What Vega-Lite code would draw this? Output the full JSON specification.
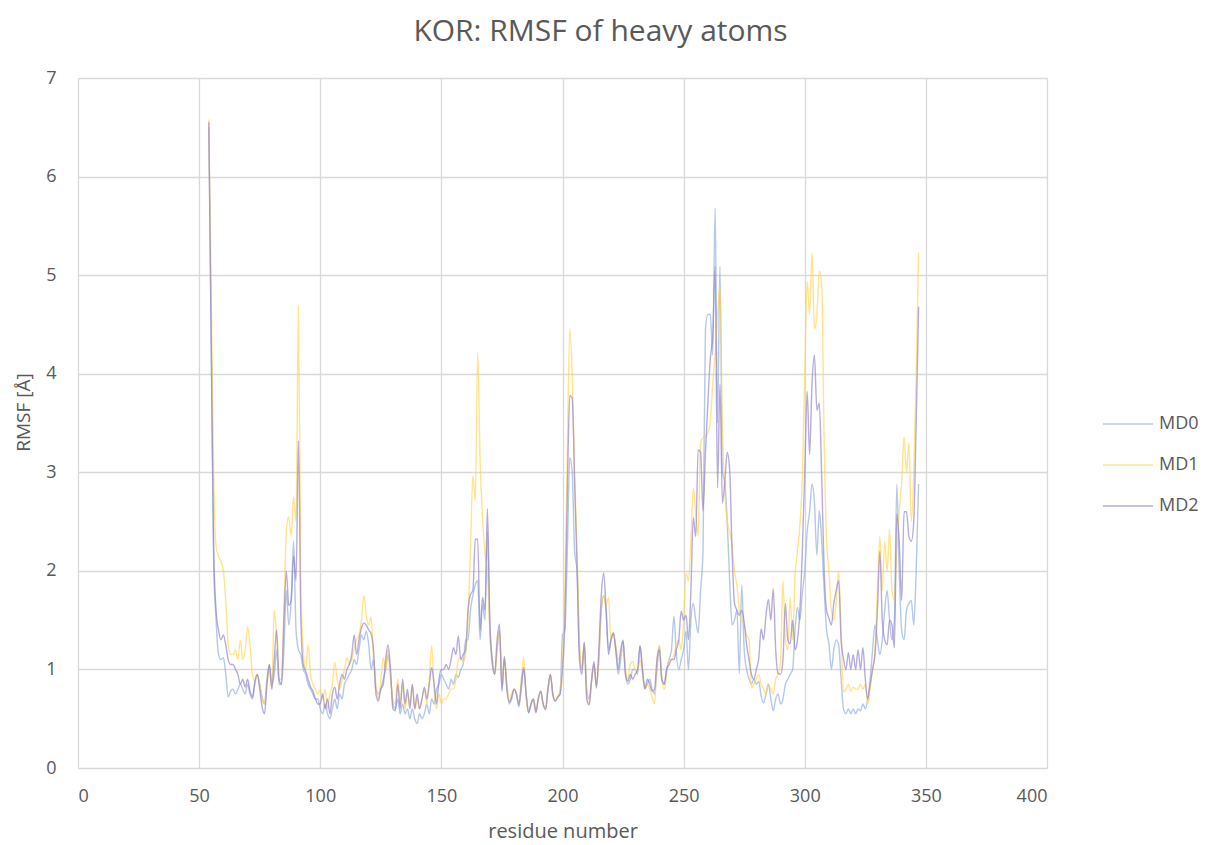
{
  "$schema": "https://vega.github.io/schema/vega-lite/v6.json",
  "width": 969,
  "height": 690,
  "autosize": {"type": "none"},
  "padding": {"left": 78, "top": 78, "right": 159, "bottom": 77},
  "background": "white",
  "title": {"text": "KOR: RMSF of heavy atoms", "fontSize": 30, "font": "Open Sans", "fontWeight": "normal", "color": "#595959", "anchor": "middle", "dx": 38, "offset": 22},
  "data": {"values": [
    {"r":54,"MD0":6.5,"MD1":6.58,"MD2":6.55},
    {"r":55,"MD0":4.3,"MD1":4.8,"MD2":4.3},
    {"r":56,"MD0":2.1,"MD1":3.0,"MD2":2.2},
    {"r":57,"MD0":1.5,"MD1":2.25,"MD2":1.6},
    {"r":58,"MD0":1.15,"MD1":2.15,"MD2":1.4},
    {"r":59,"MD0":1.1,"MD1":2.1,"MD2":1.3},
    {"r":60,"MD0":1.12,"MD1":2.0,"MD2":1.35},
    {"r":61,"MD0":0.95,"MD1":1.7,"MD2":1.25},
    {"r":62,"MD0":0.72,"MD1":1.25,"MD2":1.1},
    {"r":63,"MD0":0.78,"MD1":1.15,"MD2":1.05},
    {"r":64,"MD0":0.8,"MD1":1.15,"MD2":1.05},
    {"r":65,"MD0":0.75,"MD1":1.2,"MD2":1.0},
    {"r":66,"MD0":0.8,"MD1":1.1,"MD2":0.95},
    {"r":67,"MD0":0.85,"MD1":1.3,"MD2":0.85},
    {"r":68,"MD0":0.8,"MD1":1.1,"MD2":0.9},
    {"r":69,"MD0":0.75,"MD1":1.2,"MD2":0.82},
    {"r":70,"MD0":0.85,"MD1":1.43,"MD2":0.9},
    {"r":71,"MD0":0.75,"MD1":1.25,"MD2":0.78},
    {"r":72,"MD0":0.7,"MD1":0.95,"MD2":0.72},
    {"r":73,"MD0":0.85,"MD1":0.88,"MD2":0.88},
    {"r":74,"MD0":0.95,"MD1":0.95,"MD2":0.95},
    {"r":75,"MD0":0.85,"MD1":0.85,"MD2":0.8},
    {"r":76,"MD0":0.72,"MD1":0.7,"MD2":0.62},
    {"r":77,"MD0":0.65,"MD1":0.65,"MD2":0.55},
    {"r":78,"MD0":0.9,"MD1":0.85,"MD2":0.85},
    {"r":79,"MD0":1.05,"MD1":1.0,"MD2":1.05},
    {"r":80,"MD0":0.85,"MD1":0.8,"MD2":0.8},
    {"r":81,"MD0":0.95,"MD1":1.6,"MD2":1.1},
    {"r":82,"MD0":1.2,"MD1":1.3,"MD2":1.4},
    {"r":83,"MD0":0.85,"MD1":0.9,"MD2":0.9},
    {"r":84,"MD0":0.85,"MD1":0.9,"MD2":0.85},
    {"r":85,"MD0":1.2,"MD1":1.6,"MD2":1.5},
    {"r":86,"MD0":1.8,"MD1":2.4,"MD2":2.0},
    {"r":87,"MD0":1.45,"MD1":2.55,"MD2":1.65},
    {"r":88,"MD0":1.7,"MD1":2.35,"MD2":1.7},
    {"r":89,"MD0":2.3,"MD1":2.75,"MD2":2.15},
    {"r":90,"MD0":1.4,"MD1":2.5,"MD2":1.9},
    {"r":91,"MD0":1.2,"MD1":4.68,"MD2":3.32},
    {"r":92,"MD0":1.15,"MD1":1.8,"MD2":1.5},
    {"r":93,"MD0":1.0,"MD1":1.2,"MD2":1.05},
    {"r":94,"MD0":0.95,"MD1":1.0,"MD2":0.98},
    {"r":95,"MD0":0.85,"MD1":1.25,"MD2":0.9},
    {"r":96,"MD0":0.8,"MD1":0.95,"MD2":0.82},
    {"r":97,"MD0":0.75,"MD1":0.85,"MD2":0.78},
    {"r":98,"MD0":0.7,"MD1":0.8,"MD2":0.7},
    {"r":99,"MD0":0.7,"MD1":0.75,"MD2":0.65},
    {"r":100,"MD0":0.6,"MD1":0.8,"MD2":0.65},
    {"r":101,"MD0":0.55,"MD1":0.7,"MD2":0.75},
    {"r":102,"MD0":0.65,"MD1":0.8,"MD2":0.6},
    {"r":103,"MD0":0.55,"MD1":0.6,"MD2":0.7},
    {"r":104,"MD0":0.5,"MD1":0.75,"MD2":0.55},
    {"r":105,"MD0":0.6,"MD1":0.85,"MD2":0.75},
    {"r":106,"MD0":0.7,"MD1":1.07,"MD2":0.82},
    {"r":107,"MD0":0.6,"MD1":0.9,"MD2":0.7},
    {"r":108,"MD0":0.75,"MD1":0.8,"MD2":0.85},
    {"r":109,"MD0":0.7,"MD1":0.9,"MD2":0.95},
    {"r":110,"MD0":0.85,"MD1":1.0,"MD2":0.9},
    {"r":111,"MD0":0.9,"MD1":1.12,"MD2":1.0},
    {"r":112,"MD0":0.95,"MD1":1.05,"MD2":1.05},
    {"r":113,"MD0":1.0,"MD1":1.1,"MD2":1.15},
    {"r":114,"MD0":1.1,"MD1":1.2,"MD2":1.35},
    {"r":115,"MD0":1.05,"MD1":1.3,"MD2":1.15},
    {"r":116,"MD0":1.2,"MD1":1.35,"MD2":1.3},
    {"r":117,"MD0":1.35,"MD1":1.5,"MD2":1.42},
    {"r":118,"MD0":1.3,"MD1":1.75,"MD2":1.47},
    {"r":119,"MD0":1.39,"MD1":1.55,"MD2":1.45},
    {"r":120,"MD0":1.25,"MD1":1.45,"MD2":1.4},
    {"r":121,"MD0":1.0,"MD1":1.53,"MD2":1.36},
    {"r":122,"MD0":1.1,"MD1":1.1,"MD2":1.2},
    {"r":123,"MD0":0.8,"MD1":0.85,"MD2":0.75},
    {"r":124,"MD0":0.75,"MD1":0.7,"MD2":0.68},
    {"r":125,"MD0":0.8,"MD1":0.9,"MD2":0.8},
    {"r":126,"MD0":0.9,"MD1":1.12,"MD2":0.85},
    {"r":127,"MD0":1.0,"MD1":1.0,"MD2":1.1},
    {"r":128,"MD0":1.15,"MD1":1.2,"MD2":1.25},
    {"r":129,"MD0":0.95,"MD1":0.9,"MD2":1.0},
    {"r":130,"MD0":0.65,"MD1":0.7,"MD2":0.6},
    {"r":131,"MD0":0.6,"MD1":0.65,"MD2":0.58},
    {"r":132,"MD0":0.7,"MD1":0.9,"MD2":0.85},
    {"r":133,"MD0":0.55,"MD1":0.65,"MD2":0.6},
    {"r":134,"MD0":0.65,"MD1":0.85,"MD2":0.9},
    {"r":135,"MD0":0.55,"MD1":0.6,"MD2":0.65},
    {"r":136,"MD0":0.6,"MD1":0.75,"MD2":0.8},
    {"r":137,"MD0":0.5,"MD1":0.65,"MD2":0.6},
    {"r":138,"MD0":0.6,"MD1":0.85,"MD2":0.85},
    {"r":139,"MD0":0.5,"MD1":0.6,"MD2":0.6},
    {"r":140,"MD0":0.45,"MD1":0.7,"MD2":0.75},
    {"r":141,"MD0":0.55,"MD1":0.6,"MD2":0.6},
    {"r":142,"MD0":0.5,"MD1":0.7,"MD2":0.7},
    {"r":143,"MD0":0.55,"MD1":0.8,"MD2":0.82},
    {"r":144,"MD0":0.65,"MD1":0.65,"MD2":0.7},
    {"r":145,"MD0":0.55,"MD1":0.9,"MD2":0.85},
    {"r":146,"MD0":0.7,"MD1":1.24,"MD2":1.02},
    {"r":147,"MD0":0.65,"MD1":0.8,"MD2":0.85},
    {"r":148,"MD0":0.8,"MD1":0.6,"MD2":0.65},
    {"r":149,"MD0":0.85,"MD1":0.75,"MD2":0.9},
    {"r":150,"MD0":0.95,"MD1":0.65,"MD2":1.0},
    {"r":151,"MD0":0.9,"MD1":0.7,"MD2":1.0},
    {"r":152,"MD0":0.85,"MD1":0.7,"MD2":1.05},
    {"r":153,"MD0":0.8,"MD1":0.75,"MD2":1.0},
    {"r":154,"MD0":0.9,"MD1":0.8,"MD2":1.1},
    {"r":155,"MD0":0.85,"MD1":0.8,"MD2":1.22},
    {"r":156,"MD0":0.95,"MD1":0.9,"MD2":1.15},
    {"r":157,"MD0":0.92,"MD1":1.1,"MD2":1.34},
    {"r":158,"MD0":1.0,"MD1":1.12,"MD2":1.1},
    {"r":159,"MD0":1.05,"MD1":1.08,"MD2":1.15},
    {"r":160,"MD0":1.3,"MD1":1.15,"MD2":1.2},
    {"r":161,"MD0":1.3,"MD1":1.5,"MD2":1.6},
    {"r":162,"MD0":1.6,"MD1":2.2,"MD2":1.76},
    {"r":163,"MD0":1.75,"MD1":2.97,"MD2":1.8},
    {"r":164,"MD0":1.86,"MD1":2.71,"MD2":2.32},
    {"r":165,"MD0":1.9,"MD1":4.22,"MD2":2.32},
    {"r":166,"MD0":1.3,"MD1":3.1,"MD2":1.4},
    {"r":167,"MD0":1.66,"MD1":2.54,"MD2":1.73},
    {"r":168,"MD0":1.5,"MD1":2.17,"MD2":1.6},
    {"r":169,"MD0":2.4,"MD1":2.0,"MD2":2.63},
    {"r":170,"MD0":1.4,"MD1":1.4,"MD2":1.5},
    {"r":171,"MD0":1.05,"MD1":1.1,"MD2":1.1},
    {"r":172,"MD0":0.95,"MD1":0.95,"MD2":0.95},
    {"r":173,"MD0":1.2,"MD1":1.2,"MD2":1.3},
    {"r":174,"MD0":1.4,"MD1":1.4,"MD2":1.46},
    {"r":175,"MD0":0.8,"MD1":0.85,"MD2":0.78},
    {"r":176,"MD0":1.1,"MD1":1.13,"MD2":1.13},
    {"r":177,"MD0":0.85,"MD1":0.85,"MD2":0.8},
    {"r":178,"MD0":0.65,"MD1":0.67,"MD2":0.67},
    {"r":179,"MD0":0.7,"MD1":0.75,"MD2":0.72},
    {"r":180,"MD0":0.8,"MD1":0.8,"MD2":0.8},
    {"r":181,"MD0":0.75,"MD1":0.75,"MD2":0.75},
    {"r":182,"MD0":0.62,"MD1":0.65,"MD2":0.64},
    {"r":183,"MD0":0.8,"MD1":0.9,"MD2":0.85},
    {"r":184,"MD0":1.0,"MD1":1.12,"MD2":1.02},
    {"r":185,"MD0":0.75,"MD1":0.7,"MD2":0.75},
    {"r":186,"MD0":0.56,"MD1":0.58,"MD2":0.56},
    {"r":187,"MD0":0.65,"MD1":0.65,"MD2":0.65},
    {"r":188,"MD0":0.7,"MD1":0.7,"MD2":0.7},
    {"r":189,"MD0":0.58,"MD1":0.57,"MD2":0.56},
    {"r":190,"MD0":0.7,"MD1":0.7,"MD2":0.7},
    {"r":191,"MD0":0.78,"MD1":0.78,"MD2":0.78},
    {"r":192,"MD0":0.65,"MD1":0.65,"MD2":0.65},
    {"r":193,"MD0":0.6,"MD1":0.6,"MD2":0.59},
    {"r":194,"MD0":0.8,"MD1":0.8,"MD2":0.8},
    {"r":195,"MD0":0.95,"MD1":0.95,"MD2":0.95},
    {"r":196,"MD0":0.75,"MD1":0.75,"MD2":0.75},
    {"r":197,"MD0":0.68,"MD1":0.68,"MD2":0.68},
    {"r":198,"MD0":0.72,"MD1":0.72,"MD2":0.72},
    {"r":199,"MD0":0.75,"MD1":0.8,"MD2":0.75},
    {"r":200,"MD0":1.35,"MD1":1.1,"MD2":1.0},
    {"r":201,"MD0":1.4,"MD1":1.8,"MD2":1.5},
    {"r":202,"MD0":2.2,"MD1":3.2,"MD2":2.8},
    {"r":203,"MD0":3.15,"MD1":4.46,"MD2":3.78},
    {"r":204,"MD0":3.0,"MD1":4.0,"MD2":3.75},
    {"r":205,"MD0":2.2,"MD1":3.0,"MD2":2.9},
    {"r":206,"MD0":2.0,"MD1":2.2,"MD2":2.05},
    {"r":207,"MD0":1.2,"MD1":1.3,"MD2":1.1},
    {"r":208,"MD0":1.0,"MD1":1.0,"MD2":0.95},
    {"r":209,"MD0":1.27,"MD1":1.27,"MD2":1.27},
    {"r":210,"MD0":0.8,"MD1":0.75,"MD2":0.7},
    {"r":211,"MD0":0.7,"MD1":0.65,"MD2":0.64},
    {"r":212,"MD0":0.9,"MD1":0.88,"MD2":0.88},
    {"r":213,"MD0":1.05,"MD1":1.05,"MD2":1.08},
    {"r":214,"MD0":0.85,"MD1":0.82,"MD2":0.81},
    {"r":215,"MD0":1.1,"MD1":1.1,"MD2":1.2},
    {"r":216,"MD0":1.6,"MD1":1.6,"MD2":1.75},
    {"r":217,"MD0":1.75,"MD1":1.75,"MD2":1.98},
    {"r":218,"MD0":1.6,"MD1":1.65,"MD2":1.6},
    {"r":219,"MD0":1.2,"MD1":1.73,"MD2":1.15},
    {"r":220,"MD0":1.3,"MD1":1.3,"MD2":1.3},
    {"r":221,"MD0":1.37,"MD1":1.37,"MD2":1.37},
    {"r":222,"MD0":1.2,"MD1":1.25,"MD2":1.2},
    {"r":223,"MD0":0.95,"MD1":1.1,"MD2":1.0},
    {"r":224,"MD0":1.1,"MD1":1.15,"MD2":1.2},
    {"r":225,"MD0":1.3,"MD1":1.2,"MD2":1.29},
    {"r":226,"MD0":0.95,"MD1":1.0,"MD2":0.95},
    {"r":227,"MD0":0.85,"MD1":0.9,"MD2":0.88},
    {"r":228,"MD0":0.9,"MD1":1.05,"MD2":0.95},
    {"r":229,"MD0":1.0,"MD1":1.08,"MD2":0.9},
    {"r":230,"MD0":1.0,"MD1":1.0,"MD2":0.95},
    {"r":231,"MD0":0.95,"MD1":1.0,"MD2":1.0},
    {"r":232,"MD0":1.24,"MD1":1.1,"MD2":1.24},
    {"r":233,"MD0":1.0,"MD1":0.95,"MD2":1.0},
    {"r":234,"MD0":0.81,"MD1":0.8,"MD2":0.8},
    {"r":235,"MD0":0.85,"MD1":0.85,"MD2":0.9},
    {"r":236,"MD0":0.9,"MD1":0.8,"MD2":0.85},
    {"r":237,"MD0":0.8,"MD1":0.72,"MD2":0.78},
    {"r":238,"MD0":0.75,"MD1":0.65,"MD2":0.8},
    {"r":239,"MD0":1.0,"MD1":1.1,"MD2":1.1},
    {"r":240,"MD0":1.24,"MD1":1.24,"MD2":1.2},
    {"r":241,"MD0":0.9,"MD1":0.9,"MD2":0.9},
    {"r":242,"MD0":0.85,"MD1":0.8,"MD2":0.85},
    {"r":243,"MD0":1.0,"MD1":0.95,"MD2":1.0},
    {"r":244,"MD0":1.1,"MD1":1.1,"MD2":1.05},
    {"r":245,"MD0":1.2,"MD1":1.1,"MD2":1.1},
    {"r":246,"MD0":1.54,"MD1":1.15,"MD2":1.1},
    {"r":247,"MD0":1.15,"MD1":1.25,"MD2":1.2},
    {"r":248,"MD0":1.0,"MD1":1.3,"MD2":1.3},
    {"r":249,"MD0":1.1,"MD1":1.2,"MD2":1.59},
    {"r":250,"MD0":1.2,"MD1":1.5,"MD2":1.5},
    {"r":251,"MD0":1.39,"MD1":1.98,"MD2":1.55},
    {"r":252,"MD0":1.0,"MD1":1.9,"MD2":1.3},
    {"r":253,"MD0":1.5,"MD1":2.3,"MD2":1.8},
    {"r":254,"MD0":1.67,"MD1":2.84,"MD2":2.54},
    {"r":255,"MD0":1.5,"MD1":2.6,"MD2":2.35},
    {"r":256,"MD0":1.37,"MD1":2.35,"MD2":3.23},
    {"r":257,"MD0":1.8,"MD1":3.3,"MD2":3.2},
    {"r":258,"MD0":2.2,"MD1":3.35,"MD2":2.61},
    {"r":259,"MD0":4.45,"MD1":3.36,"MD2":3.2},
    {"r":260,"MD0":4.6,"MD1":3.4,"MD2":3.7},
    {"r":261,"MD0":4.6,"MD1":3.5,"MD2":4.15},
    {"r":262,"MD0":4.19,"MD1":3.9,"MD2":4.38},
    {"r":263,"MD0":5.68,"MD1":4.2,"MD2":5.09},
    {"r":264,"MD0":3.5,"MD1":4.6,"MD2":2.84},
    {"r":265,"MD0":5.09,"MD1":4.9,"MD2":3.89},
    {"r":266,"MD0":3.0,"MD1":3.5,"MD2":2.69},
    {"r":267,"MD0":2.9,"MD1":2.8,"MD2":2.9},
    {"r":268,"MD0":2.5,"MD1":2.5,"MD2":3.2},
    {"r":269,"MD0":1.9,"MD1":2.4,"MD2":3.03},
    {"r":270,"MD0":1.45,"MD1":2.27,"MD2":2.2},
    {"r":271,"MD0":1.5,"MD1":2.0,"MD2":1.67},
    {"r":272,"MD0":1.6,"MD1":1.85,"MD2":1.6},
    {"r":273,"MD0":0.96,"MD1":1.6,"MD2":1.55},
    {"r":274,"MD0":1.86,"MD1":1.5,"MD2":1.6},
    {"r":275,"MD0":1.2,"MD1":1.45,"MD2":1.48},
    {"r":276,"MD0":1.0,"MD1":1.35,"MD2":1.25},
    {"r":277,"MD0":0.9,"MD1":1.3,"MD2":1.1},
    {"r":278,"MD0":0.85,"MD1":0.81,"MD2":0.95},
    {"r":279,"MD0":0.9,"MD1":0.85,"MD2":0.9},
    {"r":280,"MD0":0.85,"MD1":0.9,"MD2":1.0},
    {"r":281,"MD0":0.88,"MD1":0.95,"MD2":1.11},
    {"r":282,"MD0":0.73,"MD1":0.85,"MD2":1.41},
    {"r":283,"MD0":0.66,"MD1":0.8,"MD2":1.3},
    {"r":284,"MD0":0.75,"MD1":0.75,"MD2":1.55},
    {"r":285,"MD0":0.85,"MD1":0.85,"MD2":1.71},
    {"r":286,"MD0":0.7,"MD1":0.8,"MD2":1.5},
    {"r":287,"MD0":0.58,"MD1":0.75,"MD2":1.82},
    {"r":288,"MD0":0.7,"MD1":0.9,"MD2":1.2},
    {"r":289,"MD0":0.75,"MD1":0.95,"MD2":0.96},
    {"r":290,"MD0":0.65,"MD1":1.07,"MD2":0.95},
    {"r":291,"MD0":0.7,"MD1":1.9,"MD2":1.1},
    {"r":292,"MD0":0.85,"MD1":1.3,"MD2":1.67},
    {"r":293,"MD0":0.9,"MD1":1.2,"MD2":1.3},
    {"r":294,"MD0":0.95,"MD1":1.73,"MD2":1.26},
    {"r":295,"MD0":1.0,"MD1":1.3,"MD2":1.5},
    {"r":296,"MD0":1.4,"MD1":1.95,"MD2":1.2},
    {"r":297,"MD0":1.63,"MD1":2.2,"MD2":1.3},
    {"r":298,"MD0":1.5,"MD1":2.46,"MD2":1.6},
    {"r":299,"MD0":1.77,"MD1":2.95,"MD2":2.2},
    {"r":300,"MD0":2.0,"MD1":4.0,"MD2":3.0},
    {"r":301,"MD0":2.4,"MD1":4.94,"MD2":3.82},
    {"r":302,"MD0":2.6,"MD1":4.6,"MD2":3.18},
    {"r":303,"MD0":2.88,"MD1":5.23,"MD2":3.9},
    {"r":304,"MD0":2.7,"MD1":4.45,"MD2":4.19},
    {"r":305,"MD0":2.16,"MD1":4.6,"MD2":3.63},
    {"r":306,"MD0":2.61,"MD1":5.04,"MD2":3.7},
    {"r":307,"MD0":2.3,"MD1":4.9,"MD2":2.95},
    {"r":308,"MD0":1.82,"MD1":3.33,"MD2":2.01},
    {"r":309,"MD0":1.4,"MD1":2.3,"MD2":1.6},
    {"r":310,"MD0":1.26,"MD1":2.0,"MD2":1.52},
    {"r":311,"MD0":1.0,"MD1":1.6,"MD2":1.45},
    {"r":312,"MD0":1.2,"MD1":1.5,"MD2":1.67},
    {"r":313,"MD0":1.3,"MD1":1.7,"MD2":1.8},
    {"r":314,"MD0":1.25,"MD1":2.0,"MD2":1.9},
    {"r":315,"MD0":0.9,"MD1":1.4,"MD2":1.3},
    {"r":316,"MD0":0.6,"MD1":0.77,"MD2":1.11},
    {"r":317,"MD0":0.55,"MD1":0.8,"MD2":1.0},
    {"r":318,"MD0":0.6,"MD1":0.85,"MD2":1.17},
    {"r":319,"MD0":0.55,"MD1":0.78,"MD2":1.0},
    {"r":320,"MD0":0.6,"MD1":0.82,"MD2":1.15},
    {"r":321,"MD0":0.55,"MD1":0.8,"MD2":1.0},
    {"r":322,"MD0":0.6,"MD1":0.8,"MD2":1.2},
    {"r":323,"MD0":0.58,"MD1":0.85,"MD2":1.0},
    {"r":324,"MD0":0.65,"MD1":0.8,"MD2":1.22},
    {"r":325,"MD0":0.6,"MD1":0.85,"MD2":0.9},
    {"r":326,"MD0":0.7,"MD1":0.65,"MD2":0.7},
    {"r":327,"MD0":0.9,"MD1":0.8,"MD2":0.85},
    {"r":328,"MD0":1.2,"MD1":1.0,"MD2":1.0},
    {"r":329,"MD0":1.45,"MD1":1.2,"MD2":1.15},
    {"r":330,"MD0":1.3,"MD1":1.8,"MD2":1.6},
    {"r":331,"MD0":1.15,"MD1":2.35,"MD2":2.2},
    {"r":332,"MD0":1.3,"MD1":1.8,"MD2":1.5},
    {"r":333,"MD0":1.6,"MD1":2.3,"MD2":1.3},
    {"r":334,"MD0":1.8,"MD1":2.0,"MD2":1.25},
    {"r":335,"MD0":1.5,"MD1":2.42,"MD2":1.5},
    {"r":336,"MD0":1.3,"MD1":1.8,"MD2":1.45},
    {"r":337,"MD0":1.5,"MD1":1.7,"MD2":1.22},
    {"r":338,"MD0":2.88,"MD1":2.2,"MD2":2.58},
    {"r":339,"MD0":2.0,"MD1":2.6,"MD2":2.3},
    {"r":340,"MD0":1.4,"MD1":2.9,"MD2":1.7},
    {"r":341,"MD0":1.3,"MD1":3.36,"MD2":2.6},
    {"r":342,"MD0":1.6,"MD1":3.0,"MD2":2.6},
    {"r":343,"MD0":1.67,"MD1":3.3,"MD2":2.35},
    {"r":344,"MD0":1.7,"MD1":2.5,"MD2":2.3},
    {"r":345,"MD0":1.45,"MD1":3.0,"MD2":2.5},
    {"r":346,"MD0":2.0,"MD1":4.0,"MD2":3.5},
    {"r":347,"MD0":2.88,"MD1":5.23,"MD2":4.68}
  ]},
  "transform": [{"fold": ["MD0", "MD1", "MD2"], "as": ["series", "rmsf"]}],
  "mark": {"type": "line", "interpolate": "monotone", "strokeWidth": 1.4, "opacity": 0.65, "clip": true},
  "encoding": {
    "x": {"field": "r", "type": "quantitative", "scale": {"domain": [0, 400], "nice": false},
      "axis": {"values": [0, 50, 100, 150, 200, 250, 300, 350, 400], "title": "residue number", "grid": true, "gridColor": "#d9d9d9", "gridWidth": 1.3, "domain": false, "ticks": false, "labelFontSize": 18, "labelColor": "#595959", "labelFont": "Open Sans", "labelPadding": 19, "titleFont": "Open Sans", "titleFontSize": 20, "titleFontWeight": "normal", "titleColor": "#595959", "titlePadding": 16}},
    "y": {"field": "rmsf", "type": "quantitative", "scale": {"domain": [0, 7], "nice": false},
      "axis": {"values": [0, 1, 2, 3, 4, 5, 6, 7], "title": "RMSF [Å]", "grid": true, "gridColor": "#d9d9d9", "gridWidth": 1.3, "domain": false, "ticks": false, "labelFontSize": 18, "labelColor": "#595959", "labelFont": "Open Sans", "labelPadding": 22, "titleFont": "Open Sans", "titleFontSize": 19, "titleFontWeight": "normal", "titleColor": "#595959", "titlePadding": 12, "titleY": 334}},
    "color": {"field": "series", "type": "nominal",
      "scale": {"domain": ["MD0", "MD1", "MD2"], "range": ["#8eaadb", "#ffd54f", "#9080c8"]},
      "legend": {"orient": "none", "legendX": 1029, "legendY": 325, "title": null, "padding": 0, "symbolType": "M-1.25,0H1.25", "symbolSize": 1600, "symbolStrokeWidth": 1.4, "symbolOpacity": 0.65, "rowPadding": 11, "labelOffset": 10, "labelFontSize": 18, "labelFont": "Open Sans", "labelColor": "#595959"}}
  },
  "config": {"view": {"stroke": null}}
}
